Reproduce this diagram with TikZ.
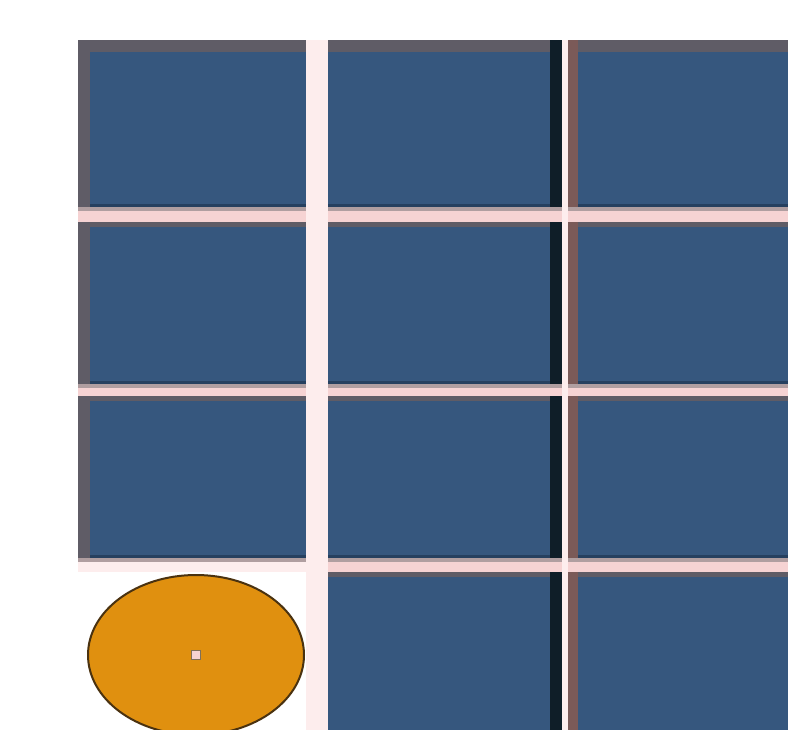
\documentclass[tikz,border=0pt]{standalone}
\usepackage{xcolor}
\usepackage{tikz}
\usetikzlibrary{shapes.geometric}
\usetikzlibrary{positioning}
\definecolor{tileblue}{HTML}{36577E}
\definecolor{tiledark}{HTML}{26405F}
\definecolor{rimgray}{HTML}{5F5C66}
\definecolor{rimdark}{HTML}{0F1E28}
\definecolor{rimbrown}{HTML}{7B5A58}
\definecolor{gappink}{HTML}{F6D3D3}
\definecolor{gapgray}{HTML}{B09EA0}
\definecolor{gaplight}{HTML}{FDEDED}
\definecolor{tokenorange}{HTML}{E0900F}
\definecolor{tokenrim}{HTML}{4A3210}

\begin{document}
\begin{tikzpicture}[x=0.75pt, y=-0.75pt,
  every node/.style={inner sep=0pt, outer sep=0pt},
  tile/.style={rectangle, fill=tileblue},
  token/.style={ellipse, fill=tokenorange, draw=tokenrim, line width=1.5pt},
  dot/.style={rectangle, fill=gappink, draw=tokenrim!70, line width=0.8pt, minimum size=7pt}]
  \useasboundingbox[fill=white] (0,0) rectangle (788,730);
  \clip (0,0) rectangle (788,730);
  \fill[gappink] (78,40) rectangle (788,572);
  \fill[gappink] (306,560) rectangle (788,730);
  \fill[gaplight] (306,40) rectangle (328,730);
  \fill[gaplight] (562,40) rectangle (568,730);
  \fill[gaplight] (78,560) rectangle (306,572);
  \foreach \c/\xa/\xb in {1/78/306, 2/328/562, 3/568/800}
    \foreach \r/\ya/\yb/\rim in {1/40/207/9pt, 2/222/384/4pt, 3/396/558/4pt, 4/572/745/4pt} {
      \ifnum\c\r=14 \else
        \node[tile, minimum width={(\xb-\xa)*0.75pt}, minimum height={(\yb-\ya)*0.75pt}]
          (tile\c\r) at ({(\xa+\xb)/2},{(\ya+\yb)/2}) {};
        \fill[rimgray] (tile\c\r.north west) rectangle ([yshift=-\rim]tile\c\r.north east);
        \fill[tiledark] ([yshift=2pt]tile\c\r.south west) rectangle (tile\c\r.south east);
        \fill[gapgray] (tile\c\r.south west) rectangle ([yshift=-3pt]tile\c\r.south east);
        \ifnum\c=1
          \fill[rimgray] (tile\c\r.north west) rectangle ([xshift=9pt]tile\c\r.south west);
        \fi
        \ifnum\c=2
          \fill[rimdark] ([xshift=-9pt]tile\c\r.north east) rectangle (tile\c\r.south east);
        \fi
        \ifnum\c=3
          \fill[rimbrown] (tile\c\r.north west) rectangle ([xshift=7.5pt]tile\c\r.south west);
        \fi
      \fi
    }
  \node[token, minimum width=162pt, minimum height=120pt] (token) at (196,655) {};
  \node[dot] (hole) at (token.center) {};
\end{tikzpicture}
\end{document}
